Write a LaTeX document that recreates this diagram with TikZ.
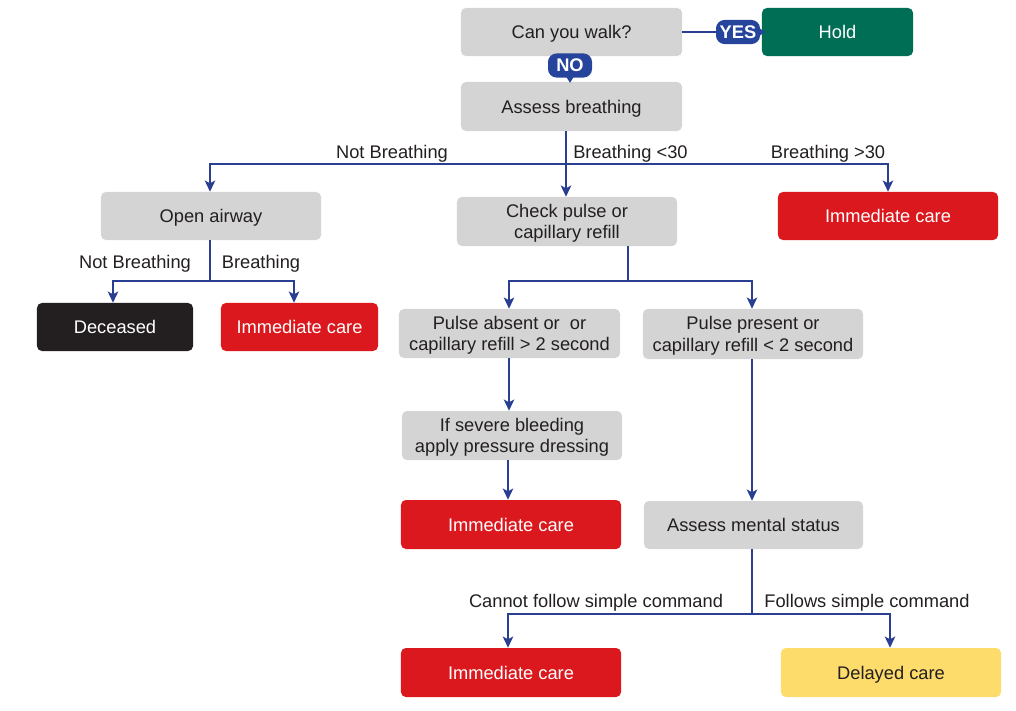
\documentclass[tikz,border=0pt]{standalone}
\usepackage{fontspec}
\setmainfont{Liberation Sans}
\usetikzlibrary{arrows.meta}
\definecolor{boxgray}{HTML}{D4D4D4}
\definecolor{carered}{HTML}{DA181E}
\definecolor{holdgreen}{HTML}{006E55}
\definecolor{deadblack}{HTML}{231F20}
\definecolor{delayyellow}{HTML}{FDDC6C}
\definecolor{linkblue}{HTML}{2A3F92}
\definecolor{badgeblue}{HTML}{26449B}
\definecolor{txt}{HTML}{231F20}
\tikzset{
  basebox/.style={rounded corners=3.5pt, inner sep=0pt, minimum height=1.2cm},
  graybox/.style={basebox, fill=boxgray},
  redbox/.style={basebox, fill=carered},
  greenbox/.style={basebox, fill=holdgreen},
  blackbox/.style={basebox, fill=deadblack},
  yellowbox/.style={basebox, fill=delayyellow},
  tk/.style={text=txt, align=center, inner sep=0pt, font=\fontsize{13}{15.5}\selectfont},
  tw/.style={tk, text=white},
  one/.style={execute at begin node={\strut}},
  badge/.style={fill=badgeblue, text=white, rounded corners=6pt, inner sep=0pt,
     minimum width=1.1cm, minimum height=0.6cm, font=\bfseries\fontsize{13}{15}\selectfont},
  link/.style={draw=linkblue, line width=1.1pt},
  arr/.style={link, -{Stealth[length=8pt,width=7.5pt,inset=2pt]}},
  lbl/.style={text=txt, font=\fontsize{13}{15}\selectfont, inner sep=0pt}
}
\begin{document}
\begin{tikzpicture}[x=0.025cm,y=-0.025cm]
\useasboundingbox (0,0) rectangle (1016,710);
% boxes
\node[graybox, minimum width=5.525cm] (walk) at (571.5,32) {};
\node[greenbox, minimum width=3.775cm] (hold) at (837.5,32) {};
\node[graybox, minimum width=5.525cm, minimum height=1.225cm] (breath) at (571.5,106.5) {};
\node[graybox, minimum width=5.5cm] (airway) at (211,216) {};
\node[graybox, minimum width=5.5cm, minimum height=1.225cm] (pulse) at (567,221.5) {};
\node[redbox, minimum width=5.5cm] (imm1) at (888,216) {};
\node[blackbox, minimum width=3.9cm] (dead) at (115,327) {};
\node[redbox, minimum width=3.925cm] (imm2) at (299.5,327) {};
\node[graybox, minimum width=5.525cm, minimum height=1.225cm] (absent) at (509.5,333.5) {};
\node[graybox, minimum width=5.5cm, minimum height=1.25cm] (present) at (753,334) {};
\node[graybox, minimum width=5.5cm, minimum height=1.225cm] (bleed) at (512,435.5) {};
\node[redbox, minimum width=5.5cm, minimum height=1.225cm] (imm3) at (511,524.5) {};
\node[graybox, minimum width=5.475cm] (mental) at (753.5,525) {};
\node[redbox, minimum width=5.5cm, minimum height=1.225cm] (imm4) at (511,672.5) {};
\node[yellowbox, minimum width=5.5cm, minimum height=1.225cm] (delayed) at (891,672.5) {};
% box texts
\node[tk, one] (walk-t) at ([yshift=-1.6pt]walk.center) {Can you walk?};
\node[tw, one] (hold-t) at ([yshift=-1.6pt]hold.center) {Hold};
\node[tk, one] (breath-t) at ([yshift=-1.6pt]breath.center) {Assess breathing};
\node[tk, one] (airway-t) at ([yshift=-1.6pt]airway.center) {Open airway};
\node[tk] (pulse-t) at ([yshift=-1.2pt]pulse.center) {Check pulse or\\capillary refill};
\node[tw, one] (imm1-t) at ([yshift=-1.6pt]imm1.center) {Immediate care};
\node[tw, one] (dead-t) at ([yshift=-1.6pt]dead.center) {Deceased};
\node[tw, one] (imm2-t) at ([yshift=-1.6pt]imm2.center) {Immediate care};
\node[tk] (absent-t) at ([yshift=-1.2pt]absent.center) {Pulse absent or~~or\\capillary refill > 2 second};
\node[tk] (present-t) at ([yshift=-1.2pt]present.center) {Pulse present or\\capillary refill < 2 second};
\node[tk] (bleed-t) at ([yshift=-1.2pt]bleed.center) {If severe bleeding\\apply pressure dressing};
\node[tw, one] (imm3-t) at ([yshift=-1.6pt]imm3.center) {Immediate care};
\node[tk, one] (mental-t) at ([yshift=-1.6pt]mental.center) {Assess mental status};
\node[tw, one] (imm4-t) at ([yshift=-1.6pt]imm4.center) {Immediate care};
\node[tk, one] (delayed-t) at ([yshift=-1.6pt]delayed.center) {Delayed care};
% coordinates
\coordinate (j1) at (566,164);
\coordinate (j2) at (210,281);
\coordinate (j3) at (628,281);
\coordinate (j4) at (752,614);
\coordinate (cA) at (113,0);
\coordinate (cB) at (294,0);
\coordinate (cC) at (509,0);
\coordinate (cD) at (752,0);
\coordinate (cE) at (508,0);
\coordinate (cF) at (890,0);
\coordinate (cG) at (210,0);
\coordinate (cH) at (888,0);
% badges
\node[badge] (yes) at (738,32) {YES};
\fill[badgeblue] (yes.east) ++(-3,-5) -- ++(8,5) -- ++(-8,5) -- cycle;
\node[badge] (no) at (570,65.5) {NO};
\fill[badgeblue] (no.south) ++(-5,-3) -- ++(5,8) -- ++(5,-8) -- cycle;
\draw[link] (walk.east) -- (yes.west);
% connectors
\draw[link] (breath.south -| j1) -- (j1);
\draw[arr] (j1) -- (pulse.north -| j1);
\draw[arr] (j1) -| (airway.north -| cG);
\draw[arr] (j1) -| (imm1.north -| cH);
\draw[link] (airway.south -| j2) -- (j2);
\draw[arr] (j2) -| (dead.north -| cA);
\draw[arr] (j2) -| (imm2.north -| cB);
\draw[link] (pulse.south -| j3) -- (j3);
\draw[arr] (j3) -| (absent.north -| cC);
\draw[arr] (j3) -| (present.north -| cD);
\draw[arr] (absent.south -| cC) -- (bleed.north -| cC);
\draw[arr] (bleed.south -| cE) -- (imm3.north -| cE);
\draw[arr] (present.south -| cD) -- (mental.north -| cD);
\draw[link] (mental.south -| j4) -- (j4);
\draw[arr] (j4) -| (imm4.north -| cE);
\draw[arr] (j4) -| (delayed.north -| cF);
% labels
\node[lbl] (l1) at (392,154) {Not Breathing};
\node[lbl, anchor=west] (l2) at (573,154) {Breathing <30};
\node[lbl] (l3) at (828,154) {Breathing >30};
\node[lbl] (l4) at (135,264) {Not Breathing};
\node[lbl] (l5) at (261,264) {Breathing};
\node[lbl] (l6) at (596,603) {Cannot follow simple command};
\node[lbl] (l7) at (867,603) {Follows simple command};
\end{tikzpicture}
\end{document}
